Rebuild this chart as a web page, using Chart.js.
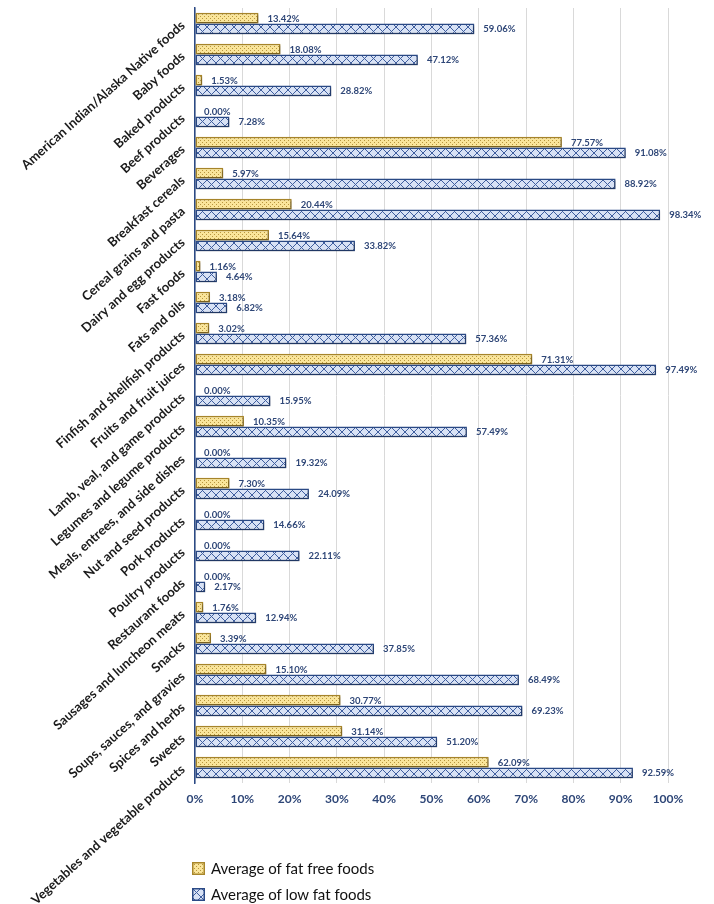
<!DOCTYPE html>
<html>
<head>
<meta charset="utf-8">
<script src="https://cdn.jsdelivr.net/npm/chart.js@4.4.1/dist/chart.umd.min.js"></script>
<style>
  body { margin: 0; background: #fff; }
  #wrap { position: relative; width: 714px; height: 904px; }
  #legend { position: absolute; left: 192px; top: 855px; font-family: Lato, "Open Sans", sans-serif; font-size: 15px; color: #111; }
  .item { display: flex; align-items: center; height: 26px; }
  .item canvas { margin-right: 6px; }
</style>
</head>
<body>
<div id="wrap">
  <canvas id="fat_chart" width="714" height="904"></canvas>
  <div id="legend"></div>
</div>
<script>
// カテゴリ
const categories = [
  "American Indian/Alaska Native foods", "Baby foods", "Baked products", "Beef products",
  "Beverages", "Breakfast cereals", "Cereal grains and pasta", "Dairy and egg products",
  "Fast foods", "Fats and oils", "Finfish and shellfish products", "Fruits and fruit juices",
  "Lamb, veal, and game products", "Legumes and legume products", "Meals, entrees, and side dishes",
  "Nut and seed products", "Pork products", "Poultry products", "Restaurant foods",
  "Sausages and luncheon meats", "Snacks", "Soups, sauces, and gravies", "Spices and herbs",
  "Sweets", "Vegetables and vegetable products"
];

// 値 (%)
const fatFree = [13.42, 18.08, 1.53, 0.00, 77.57, 5.97, 20.44, 15.64, 1.16, 3.18, 3.02, 71.31,
  0.00, 10.35, 0.00, 7.30, 0.00, 0.00, 0.00, 1.76, 3.39, 15.10, 30.77, 31.14, 62.09];
const lowFat = [59.06, 47.12, 28.82, 7.28, 91.08, 88.92, 98.34, 33.82, 4.64, 6.82, 57.36, 97.49,
  15.95, 57.49, 19.32, 24.09, 14.66, 22.11, 2.17, 12.94, 37.85, 68.49, 69.23, 51.20, 92.59];

const seriesNames = ["Average of fat free foods", "Average of low fat foods"];
const tickLabels = ["0%", "10%", "20%", "30%", "40%", "50%", "60%", "70%", "80%", "90%", "100%"];

// パターン
function dotPattern() {
  let c = document.createElement("canvas");
  c.width = 4; c.height = 4;
  let g = c.getContext("2d");
  g.fillStyle = "#fae59a";
  g.fillRect(0, 0, 4, 4);
  g.fillStyle = "#b8963e";
  g.fillRect(0, 0, 1, 1);
  g.fillRect(2, 2, 1, 1);
  return c;
}

function crossPattern() {
  let c = document.createElement("canvas");
  c.width = 9; c.height = 9;
  let g = c.getContext("2d");
  g.fillStyle = "#d8e2f5";
  g.fillRect(0, 0, 9, 9);
  g.strokeStyle = "#3f5e9e";
  g.lineWidth = 1;
  g.beginPath();
  g.moveTo(0, 0); g.lineTo(9, 9);
  g.moveTo(9, 0); g.lineTo(0, 9);
  g.stroke();
  return c;
}

const ctx = document.querySelector("#fat_chart").getContext("2d");
const yellowFill = ctx.createPattern(dotPattern(), "repeat");
const blueFill = ctx.createPattern(crossPattern(), "repeat");
const yellowLine = "#a8862a";
const blueLine = "#2b4a86";
const labelColor = "#2e4677";

// 数値ラベル + 影
const barLabels = {
  id: "barLabels",
  beforeDatasetsDraw(chart) {
    let c = chart.ctx;
    c.save();
    c.shadowColor = "rgba(0,0,0,0.35)";
    c.shadowOffsetX = 1;
    c.shadowOffsetY = 1.5;
    c.shadowBlur = 2;
  },
  afterDatasetsDraw(chart) {
    let c = chart.ctx;
    c.restore();
    c.save();
    c.font = "bold 9.5px Lato, sans-serif";
    c.fillStyle = labelColor;
    c.textAlign = "left";
    c.textBaseline = "middle";
    chart.data.datasets.forEach((ds, i) => {
      chart.getDatasetMeta(i).data.forEach((bar, j) => {
        c.fillText(ds.data[j].toFixed(2) + "%", bar.x + 9, bar.y + 0.5);
      });
    });
    c.restore();
  }
};

new Chart(ctx, {
  type: "bar",
  data: {
    labels: categories,
    datasets: [{
      label: seriesNames[0],
      data: fatFree,
      backgroundColor: yellowFill,
      borderColor: yellowLine,
      borderWidth: 1.5,
      borderSkipped: false
    }, {
      label: seriesNames[1],
      data: lowFat,
      backgroundColor: blueFill,
      borderColor: blueLine,
      borderWidth: 1.5,
      borderSkipped: false
    }]
  },
  options: {
    indexAxis: "y",
    responsive: false,
    animation: false,
    categoryPercentage: 0.7,
    barPercentage: 1.0,
    layout: { padding: { top: 8, right: 46, bottom: 91, left: 0 } },
    plugins: {
      legend: { display: false },
      tooltip: { enabled: false }
    },
    scales: {
      x: {
        min: 0,
        max: 100,
        ticks: {
          stepSize: 10,
          padding: 9,
          color: labelColor,
          font: { family: "Lato", size: 12, weight: "bold" },
          callback: (v, i) => tickLabels[i]
        },
        grid: { color: "#d9d9d9", drawTicks: false },
        border: { display: false },
        afterFit: (s) => { s.height = 30; }
      },
      y: {
        ticks: {
          autoSkip: false,
          minRotation: 42,
          maxRotation: 42,
          padding: 12,
          color: "#1a1a1a",
          font: { family: "Lato", size: 13, weight: "bold" }
        },
        grid: { display: false, drawTicks: false },
        border: { color: blueLine, width: 1.5 },
        afterFit: (s) => { s.width = 195; s.paddingTop = 0; s.paddingBottom = 0; }
      }
    }
  },
  plugins: [barLabels]
});

// 凡例
const legend = document.querySelector("#legend");
[[yellowFill, yellowLine], [blueFill, blueLine]].forEach((p, i) => {
  let item = document.createElement("div");
  item.className = "item";
  let sw = document.createElement("canvas");
  sw.width = 13; sw.height = 13;
  let g = sw.getContext("2d");
  g.fillStyle = p[0];
  g.fillRect(0, 0, 13, 13);
  g.strokeStyle = p[1];
  g.lineWidth = 1.5;
  g.strokeRect(0.75, 0.75, 11.5, 11.5);
  item.appendChild(sw);
  let t = document.createElement("span");
  t.textContent = seriesNames[i];
  item.appendChild(t);
  legend.appendChild(item);
});
</script>
</body>
</html>
